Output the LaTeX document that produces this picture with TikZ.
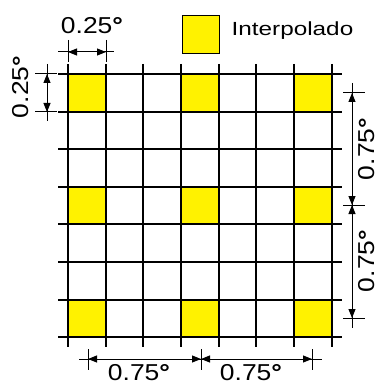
\documentclass[tikz,border=0pt]{standalone}
\usepackage{fontspec}
\setmainfont{Liberation Sans}
\usetikzlibrary{arrows.meta}

\begin{document}
\begin{tikzpicture}[x=1pt,y=-1pt,line width=1.2pt,
    dimarr/.style={{Triangle[length=9pt,width=7pt]}-{Triangle[length=9pt,width=7pt]},line width=1pt},
    dimline/.style={line width=1pt},
    dimtxt/.style={font=\fontsize{23}{23}\selectfont,inner sep=0pt}]
  % page box, pixel coordinates of the 380x385 picture (y runs down)
  \useasboundingbox (0,0) rectangle (380,385);
  \def\cw{37.7}\def\ch{37.6}
  \def\wide#1#2{\scalebox{#1}[1]{#2}}
  \def\deg{{\bfseries °}}
  % interpolated cells every third column and row
  \foreach \c in {0,3,6} \foreach \r in {0,3,6}
    \fill[yellow] ({round(68+\c*\cw)},{round(74+\r*\ch)}) rectangle ({round(68+(\c+1)*\cw)},{round(74+(\r+1)*\ch)});
  % grid, lines run past the outer cells
  \foreach \i [evaluate=\i as \gx using {round(68+\i*\cw)},
               evaluate=\i as \gy using {round(74+\i*\ch)}] in {0,...,7} {
    \draw (\gx,64) -- (\gx,347);
    \draw (58,\gy) -- (342,\gy);
  }
  % legend
  \node[draw,fill=yellow,line width=1.2pt,inner sep=0pt,minimum width=37pt,minimum height=38pt,anchor=north west] (key) at (182,15) {};
  \node[anchor=west,inner sep=0pt,font=\fontsize{19}{19}\selectfont] (keylbl) at (231,31) {\wide{1.28}{Interpolado}};
  % 0.25 deg across the top cell
  \coordinate (ta) at (68,52); \coordinate (tb) at (106,52);
  \draw[dimline] (58,52) -- (114,52);
  \draw[dimline] (68,40) -- (68,62) (106,40) -- (106,62);
  \draw[dimarr] (ta) -- (tb);
  \node[dimtxt] (tlbl) at (92,26) {\wide{1.15}{0.25\deg}};
  % 0.25 deg down the left
  \coordinate (la) at (47,74); \coordinate (lb) at (47,112);
  \draw[dimline] (47,64) -- (47,121);
  \draw[dimline] (35,74) -- (57,74) (35,112) -- (57,112);
  \draw[dimarr] (la) -- (lb);
  \node[dimtxt,rotate=90] (llbl) at (21,87) {\wide{1.15}{0.25\deg}};
  % 0.75 deg between cell centres, right side
  \coordinate (ra) at (352,93); \coordinate (rb) at (352,205); \coordinate (rc) at (352,318);
  \draw[dimline] (352,83) -- (352,328);
  \foreach \y in {93,205,318} \draw[dimline] (343,\y) -- (365,\y);
  \draw[dimarr] (ra) -- (rb);
  \draw[dimarr] (rb) -- (rc);
  \node[dimtxt,rotate=90] (rlbla) at (367,149) {\wide{1.15}{0.75\deg}};
  \node[dimtxt,rotate=90] (rlblb) at (367,261) {\wide{1.15}{0.75\deg}};
  % 0.75 deg between cell centres, bottom
  \coordinate (ba) at (88,359); \coordinate (bb) at (201,359); \coordinate (bc) at (312,359);
  \draw[dimline] (79,359) -- (322,359);
  \foreach \x in {88,201,312} \draw[dimline] (\x,349) -- (\x,370);
  \draw[dimarr] (ba) -- (bb);
  \draw[dimarr] (bb) -- (bc);
  \node[dimtxt] (blbla) at (139,373) {\wide{1.15}{0.75\deg}};
  \node[dimtxt] (blblb) at (251,373) {\wide{1.15}{0.75\deg}};
\end{tikzpicture}
\end{document}
